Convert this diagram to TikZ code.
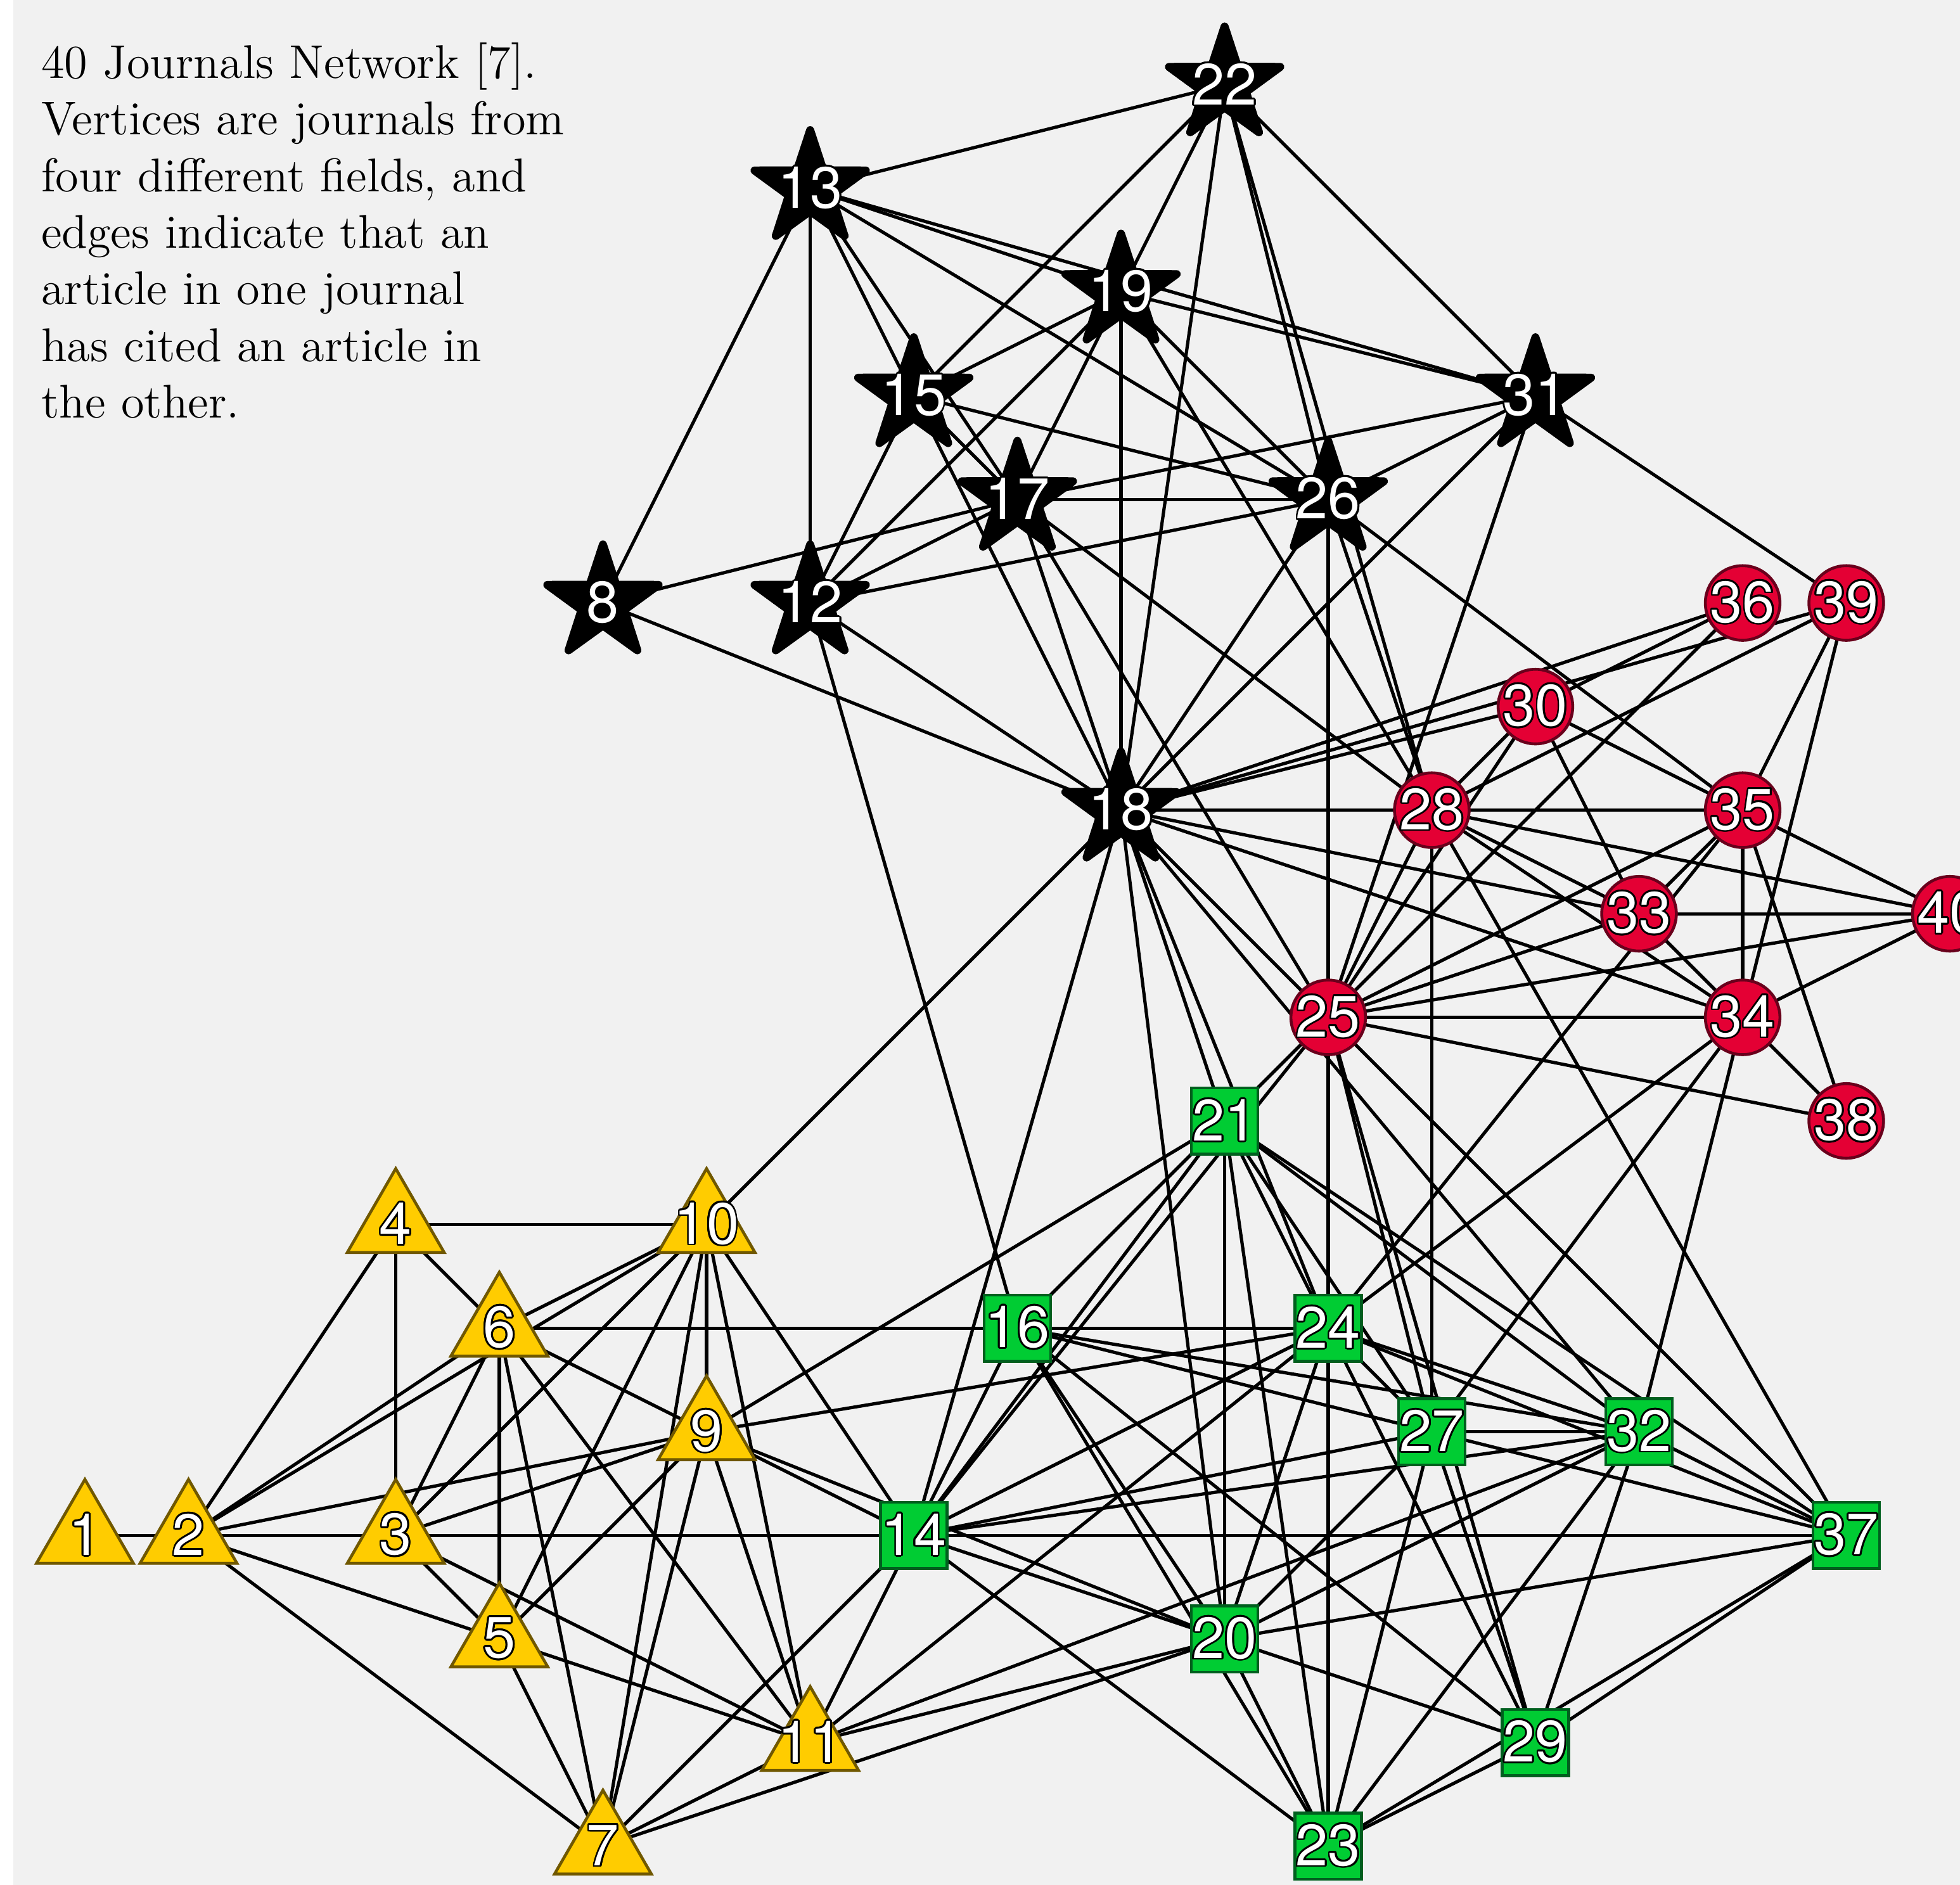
\documentclass[tikz,border=0pt]{standalone}
\usepackage{fontspec}
\newfontfamily\labfont{TeX Gyre Heros}
\usepackage{contour}
\contourlength{0.5pt}
\usetikzlibrary{shapes.geometric}
\definecolor{bgc}{RGB}{241,241,241}
\definecolor{tyel}{RGB}{255,204,0}
\definecolor{tbor}{RGB}{112,88,0}
\definecolor{cred}{RGB}{228,0,52}
\definecolor{cbor}{RGB}{105,0,28}
\definecolor{qgrn}{RGB}{0,204,51}
\definecolor{qbor}{RGB}{0,95,30}
\pgfdeclarelayer{edgelayer}
\pgfsetlayers{edgelayer,main}
\begin{document}
\begin{tikzpicture}[
  sv/.style={star, star points=5, star point ratio=2.6, minimum size=1.13cm, inner sep=0pt, fill=black, draw=black, line width=2.2pt, line join=round},
  tv/.style={regular polygon, regular polygon sides=3, minimum size=1.08cm, inner sep=0pt, fill=tyel, draw=tbor, line width=0.8pt},
  cv/.style={circle, minimum size=0.72cm, inner sep=0pt, fill=cred, draw=cbor, line width=0.8pt},
  qv/.style={rectangle, minimum size=0.64cm, inner sep=0pt, fill=qgrn, draw=qbor, line width=0.8pt},
  lab/.style={font=\labfont\fontsize{16}{16}\selectfont, text=white, inner sep=0pt},
  captxt/.style={font=\fontsize{13}{15.5}\selectfont, anchor=base west, inner sep=0pt},
  lnk/.style={line width=0.9pt, black}
]
\useasboundingbox (-0.8196,0.8206) rectangle (18.098,-17.373);
\begin{pgfonlayer}{edgelayer}
\fill[white] (-0.8196,0.8206) rectangle (18.098,-17.373);
\fill[bgc] (-0.691,0.8206) rectangle (18.098,-17.373);
\end{pgfonlayer}

\node[captxt] (cap1) at (-0.428,0.067) {40 Journals Network [7].};
\node[captxt] (cap2) at (-0.428,-0.478) {Vertices are journals from};
\node[captxt] (cap3) at (-0.428,-1.029) {four different fields, and};
\node[captxt] (cap4) at (-0.428,-1.574) {edges indicate that an};
\node[captxt] (cap5) at (-0.428,-2.119) {article in one journal};
\node[captxt] (cap6) at (-0.428,-2.670) {has cited an article in};
\node[captxt] (cap7) at (-0.428,-3.215) {the other.};

% vertices: triangles
\foreach \n/\x/\y in {1/0/14, 2/1/14, 3/3/14, 4/3/11, 5/4/15, 6/4/12, 7/5/17, 9/6/13, 10/6/11, 11/7/16}
  \node[tv] (n\n) at (\x,-\y) {};
% stars
\foreach \n/\x/\y in {8/5/5, 12/7/5, 13/7/1, 15/8/3, 17/9/4, 18/10/7, 19/10/2, 22/11/0, 26/12/4, 31/14/3}
  \node[sv] (n\n) at (\x,-\y) {};
% squares
\foreach \n/\x/\y in {14/8/14, 16/9/12, 20/11/15, 21/11/10, 23/12/17, 24/12/12, 27/13/13, 29/14/16, 32/15/13, 37/17/14}
  \node[qv] (n\n) at (\x,-\y) {};
% circles
\foreach \n/\x/\y in {25/12/9, 28/13/7, 30/14/6, 33/15/8, 34/16/9, 35/16/7, 36/16/5, 38/17/10, 39/17/5, 40/18/8}
  \node[cv] (n\n) at (\x,-\y) {};
% labels
\foreach \n in {1,...,40}
  \node[lab] (l\n) at (n\n.center) {\contour{black}{\n}};

\begin{pgfonlayer}{edgelayer}
\foreach \a/\b in {
 1/2, 2/3, 2/4, 2/6, 2/10, 2/9, 2/5, 2/7,
 3/4, 3/6, 3/10, 3/9, 3/11, 3/5, 3/14,
 4/10, 4/6,
 5/6, 5/10, 5/9, 5/11, 5/7,
 6/10, 6/9, 6/16, 6/11, 6/7,
 7/10, 7/9, 7/14, 7/11, 7/20,
 9/10, 9/11, 9/14, 9/20, 9/24, 9/21,
 10/11, 10/14, 10/18,
 11/14, 11/24, 11/32, 11/20,
 8/13, 8/17, 8/18,
 12/13, 12/15, 12/19, 12/17, 12/26, 12/18, 12/16,
 13/22, 13/19, 13/31, 13/26, 13/15, 13/17,
 15/18, 15/22, 15/19, 15/26, 15/17,
 17/19, 17/26, 17/31, 17/28, 17/25, 17/18,
 18/19, 18/22, 18/26, 18/31, 18/36, 18/39, 18/30, 18/28, 18/33, 18/34, 18/25, 18/32, 18/24, 18/21, 18/20, 18/14,
 19/22, 19/31, 19/26, 19/28,
 22/26, 22/28, 22/31,
 26/31, 26/25, 26/35, 26/28,
 31/25, 31/39,
 25/28, 25/30, 25/36, 25/35, 25/33, 25/40, 25/34, 25/38, 25/24, 25/21, 25/27, 25/29, 25/37, 25/14,
 28/35, 28/30, 28/39, 28/33, 28/34, 28/40, 28/27, 28/37,
 30/35, 30/33, 30/36,
 33/35, 33/34, 33/40,
 34/35, 34/39, 34/40, 34/38, 34/24, 34/27, 34/32,
 35/39, 35/40, 35/38, 35/24,
 14/16, 14/21, 14/20, 14/23, 14/24, 14/27, 14/32, 14/37,
 16/24, 16/20, 16/23, 16/27, 16/32, 16/29, 16/21,
 20/21, 20/24, 20/27, 20/32, 20/37, 20/29, 20/23,
 21/24, 21/27, 21/32, 21/37, 21/23,
 23/24, 23/27, 23/32, 23/37, 23/29,
 24/27, 24/32, 24/37, 24/29,
 27/32, 27/37, 27/29,
 29/32, 29/37,
 32/37}
  \draw[lnk] (n\a.center) -- (n\b.center);
\end{pgfonlayer}
\end{tikzpicture}
\end{document}
